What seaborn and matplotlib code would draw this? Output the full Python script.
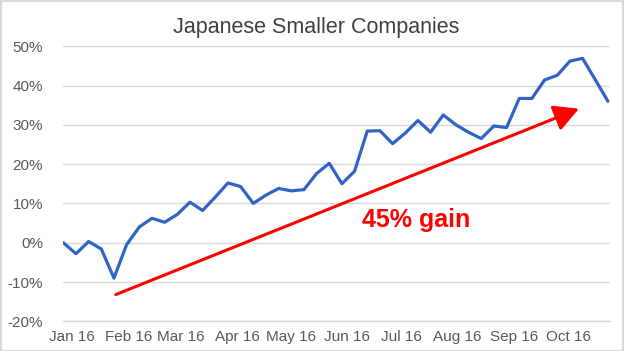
import numpy as np
import pandas as pd
import matplotlib
matplotlib.use("Agg")
import matplotlib.pyplot as plt
import matplotlib.transforms as mtransforms
from matplotlib import font_manager
from matplotlib.patches import Rectangle
from matplotlib.ticker import FuncFormatter
import seaborn as sns

# weekly performance, % change since start of year
weeks = pd.date_range("2016-01-01", periods=44, freq="7D")
gain = [0.0, -2.8, 0.3, -1.6, -9.0, -0.5, 4.0, 6.2, 5.2, 7.2,
        10.3, 8.2, 11.6, 15.2, 14.3, 10.0, 12.1, 13.8, 13.2, 13.5,
        17.6, 20.2, 15.0, 18.2, 28.4, 28.5, 25.2, 27.9, 31.1, 28.1,
        32.5, 30.0, 28.1, 26.5, 29.7, 29.3, 36.7, 36.7, 41.4, 42.6,
        46.2, 46.9, 41.5, 36.0]
month_ticks = pd.date_range("2016-01-01", "2016-10-01", freq="MS")
month_labels = ["Jan 16", "Feb 16", "Mar 16", "Apr 16", "May 16",
                "Jun 16", "Jul 16", "Aug 16", "Sep 16", "Oct 16"]

# trend arrow + callout
arrow_from = (pd.Timestamp("2016-01-30"), -13.2)
arrow_to = (pd.Timestamp("2016-10-12"), 34.1)
note_pos = (pd.Timestamp("2016-07-14"), 4.0)
note_text = "45% gain"

df = pd.DataFrame({"week": weeks, "gain": gain})

sns.set_theme(style="white")
plt.rcParams["font.family"] = ["Liberation Sans", "DejaVu Sans"]

# title looks a bit condensed in the original
names = {f.name for f in font_manager.fontManager.ttflist}
if "Liberation Sans Narrow" in names:
    title_font, title_size = ["Liberation Sans Narrow", "Liberation Sans"], 18.5
else:
    title_font, title_size = ["Liberation Sans"], 15.5

fig = plt.figure(figsize=(6.24, 3.51), dpi=100)
ax = fig.add_axes([63.3 / 624, 1 - 321.3 / 351, (610 - 63.3) / 624, (321.3 - 46.2) / 351])

sns.lineplot(data=df, x="week", y="gain", ax=ax, color="#3064C4", lw=2.3)

ax.set_ylim(-20, 50)
ax.set_yticks(np.arange(-20, 51, 10))
ax.yaxis.set_major_formatter(FuncFormatter(lambda v, p: f"{v:.0f}%"))
ax.set_xlim(pd.Timestamp("2016-01-01"), pd.Timestamp("2016-10-29 04:00"))
ax.set_xticks(month_ticks)
ax.set_xticklabels(month_labels)

ax.grid(axis="y", color="#d9d9d9", lw=1.0)
ax.grid(axis="x", visible=False)
ax.set_axisbelow(True)
for s in ["left", "right", "top"]:
    ax.spines[s].set_visible(False)
ax.spines["bottom"].set_color("#d9d9d9")
ax.spines["bottom"].set_linewidth(1.0)

ax.tick_params(axis="y", length=0, pad=14.5, labelsize=11, labelcolor="#595959")
ax.tick_params(axis="x", length=3.5, width=0.8, color="#d9d9d9", direction="out",
               pad=2.5, labelsize=11, labelcolor="#595959")
offset = mtransforms.ScaledTranslation(6.5 / 72, 0, fig.dpi_scale_trans)
for lab in ax.get_xticklabels():
    lab.set_transform(lab.get_transform() + offset)
ax.set_xlabel("")
ax.set_ylabel("")

ax.annotate("", xy=arrow_to, xytext=arrow_from,
            arrowprops=dict(arrowstyle="-|>,head_length=0.75,head_width=0.4",
                            mutation_scale=20, color="#FF0000", lw=2.2,
                            shrinkA=0, shrinkB=0))
ax.text(note_pos[0], note_pos[1], note_text, color="#FF0000", fontsize=18,
        fontweight="bold", ha="center", va="baseline")

fig.text(316 / 624, 1 - 32.7 / 351, "Japanese Smaller Companies", ha="center",
         va="baseline", fontsize=title_size, color="#404040", family=title_font)

fig.patches.append(Rectangle((0.001, 0.001), 0.998, 0.997, transform=fig.transFigure,
                             fill=False, edgecolor="#d9d9d9", lw=1.5))

fig.savefig("out.png", dpi=100)
